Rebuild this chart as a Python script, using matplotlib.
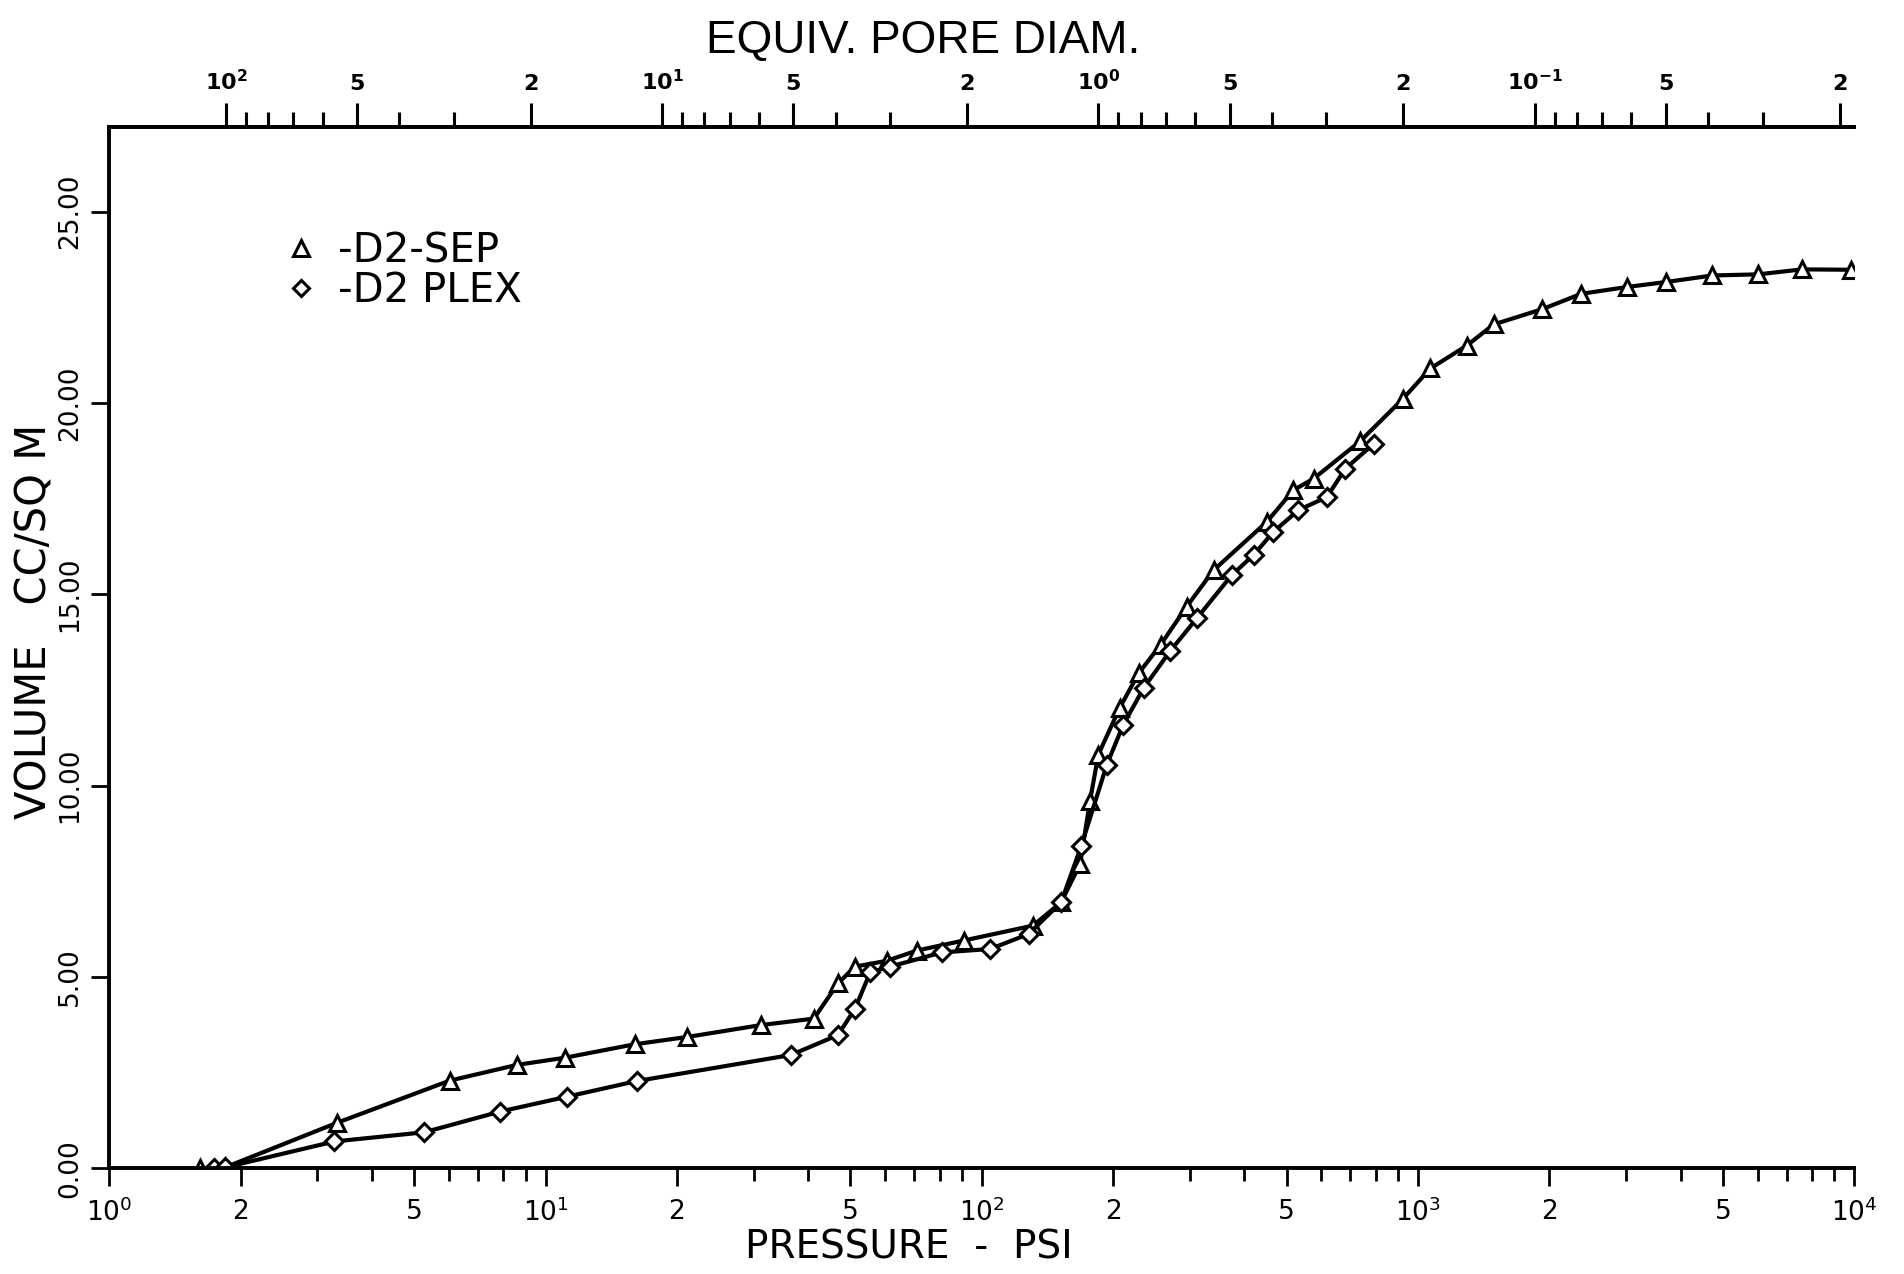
import matplotlib.pyplot as plt
from matplotlib.ticker import FixedLocator, FixedFormatter
from matplotlib.lines import Line2D

# D2-SEP (triangles): pressure psi, volume cc/sq m
sep_p = [1.61, 1.84, 3.33, 6.03, 8.59, 11.1, 16.0, 21.1, 31.1, 41.2, 46.8, 51.2,
         60.5, 71.0, 90.8, 131, 152, 168, 177, 185, 207, 229, 257, 295, 340,
         450, 518, 576, 737, 922, 1067, 1294, 1490, 1926, 2365, 3013, 3705,
         4725, 6026, 7590, 9812]
sep_v = [0.0, 0.02, 1.19, 2.29, 2.70, 2.89, 3.24, 3.43, 3.74, 3.91, 4.83, 5.27,
         5.42, 5.69, 5.95, 6.34, 6.95, 7.95, 9.60, 10.81, 12.03, 12.94, 13.68,
         14.68, 15.63, 16.89, 17.72, 18.02, 19.0, 20.1, 20.9, 21.5, 22.05,
         22.45, 22.85, 23.03, 23.16, 23.33, 23.36, 23.49, 23.48]

# D2 PLEX (diamonds)
plex_p = [1.74, 1.84, 3.28, 5.27, 7.86, 11.2, 16.2, 36.5, 46.8, 51.2, 55.5,
          61.7, 81.0, 104.5, 128, 152, 169, 193.5, 211, 235, 270, 311, 374,
          420, 466, 532, 618, 681, 791]
plex_v = [0.0, 0.02, 0.70, 0.94, 1.48, 1.87, 2.28, 2.96, 3.48, 4.17, 5.12,
          5.27, 5.64, 5.73, 6.12, 6.95, 8.42, 10.55, 11.59, 12.55, 13.51,
          14.37, 15.50, 16.03, 16.63, 17.20, 17.54, 18.28, 18.93]

# bottom axis ticks
bottom_major = [1, 2, 5, 10, 20, 50, 100, 200, 500, 1000, 2000, 5000, 10000]
bottom_labels = ['$10^0$', '2', '5', '$10^1$', '2', '5', '$10^2$', '2', '5',
                 '$10^3$', '2', '5', '$10^4$']

# top axis (equiv. pore diameter, microns)
K = 185.0
top_major = [100, 50, 20, 10, 5, 2, 1, 0.5, 0.2, 0.1, 0.05, 0.02]
top_labels = [r'$\mathbf{10^2}$', '5', '2', r'$\mathbf{10^1}$', '5', '2',
              r'$\mathbf{10^0}$', '5', '2', r'$\mathbf{10^{-1}}$', '5', '2']

y_ticks = [0, 5, 10, 15, 20, 25]
y_labels = ['0.00', '5.00', '10.00', '15.00', '20.00', '25.00']

plt.rcParams['font.family'] = ['DejaVu Sans']
plt.rcParams['mathtext.fontset'] = 'dejavusans'

fig = plt.figure(figsize=(19.04, 12.74), dpi=100)
ax = fig.add_axes([0.0574, 0.083, 0.9165, 0.817])

ax.plot(sep_p, sep_v, '-', color='black', lw=3, marker='^', ms=12,
        mfc='white', mec='black', mew=2.2)
ax.plot(plex_p, plex_v, '-', color='black', lw=3, marker='D', ms=9,
        mfc='white', mec='black', mew=2.2)

ax.set_xscale('log')
ax.set_xlim(1, 1e4)
ax.set_ylim(0, 27.2)

ax.spines['right'].set_visible(False)
for s in ['left', 'bottom', 'top']:
    ax.spines[s].set_linewidth(2.8)

# bottom axis
minor = []
for dec in [1, 10, 100, 1000]:
    for m in [3, 4, 6, 7, 8, 9]:
        minor.append(dec * m)
ax.xaxis.set_major_locator(FixedLocator(bottom_major))
ax.xaxis.set_major_formatter(FixedFormatter(bottom_labels))
ax.xaxis.set_minor_locator(FixedLocator(minor))
ax.tick_params(axis='x', which='major', direction='out', length=13, width=2,
               pad=9, labelsize=19, top=False)
ax.tick_params(axis='x', which='minor', direction='out', length=9, width=2,
               top=False)
ax.set_xlabel('PRESSURE  -  PSI', fontsize=28)
ax.xaxis.set_label_coords(0.458, -0.058)

# left axis
ax.set_yticks(y_ticks)
ax.set_yticklabels(y_labels, rotation=90, va='center')
ax.tick_params(axis='y', which='major', direction='out', length=13, width=2,
               pad=6, labelsize=19, right=False)
ax.set_ylabel('VOLUME   CC/SQ M', fontsize=30)
ax.yaxis.set_label_coords(-0.031, 0.525)

# top axis: pore diameter
secax = ax.secondary_xaxis('top', functions=(lambda p: K / p, lambda d: K / d))
top_minor = []
for dec in [10, 1, 0.1, 0.01]:
    for m in [3, 4, 6, 7, 8, 9]:
        v = dec * m
        if v < 100 and v > 0.0185:
            top_minor.append(v)
secax.xaxis.set_major_locator(FixedLocator(top_major))
secax.xaxis.set_major_formatter(FixedFormatter(top_labels))
secax.xaxis.set_minor_locator(FixedLocator(top_minor))
secax.tick_params(which='major', direction='out', length=17, width=2.2, pad=7,
                  labelsize=16)
secax.tick_params(which='minor', direction='out', length=11, width=2.2)
for lab in secax.get_xticklabels():
    lab.set_fontweight('bold')
secax.spines['top'].set_linewidth(2.8)
fig.text(0.485, 0.968, 'EQUIV. PORE DIAM.', fontsize=33, ha='center',
         va='center', family=['Liberation Sans', 'DejaVu Sans'])

# legend
handles = [Line2D([], [], ls='none', marker='^', ms=11, mfc='white',
                  mec='black', mew=2.2),
           Line2D([], [], ls='none', marker='D', ms=8, mfc='white',
                  mec='black', mew=2.2)]
ax.legend(handles, ['-D2-SEP', '-D2 PLEX'], loc='upper left',
          bbox_to_anchor=(0.08, 0.935), frameon=False, handlelength=0.8,
          handletextpad=0.5, labelspacing=0.0, fontsize=29)

fig.savefig('out.png', dpi=100)
